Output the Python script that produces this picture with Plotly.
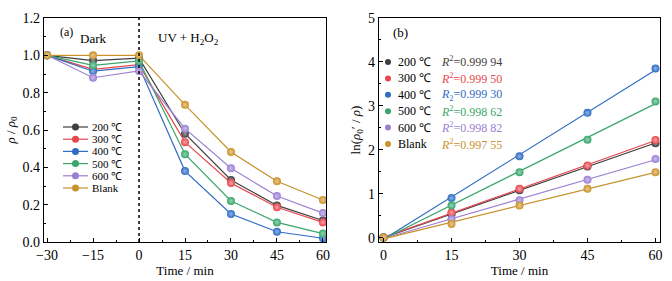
import numpy as np
import plotly.graph_objects as go

# ---------------- data ----------------
series_names = ["200 ℃", "300 ℃", "400 ℃", "500 ℃", "600 ℃", "Blank"]
colors = ["#3f3f3f", "#e8474d", "#2f6cc3", "#3aa66b", "#9b80d2", "#c8922c"]
light = ["#9a9a9a", "#f6a3a6", "#8fb3e6", "#94d4b0", "#cdbdec", "#e8c98e"]

time_a = [-30, -15, 0, 15, 30, 45, 60]
ratio_200 = [1.0, 0.972, 0.985, 0.580, 0.332, 0.196, 0.115]
ratio_300 = [1.0, 0.925, 0.950, 0.535, 0.316, 0.186, 0.105]
ratio_400 = [1.0, 0.915, 0.940, 0.380, 0.150, 0.055, 0.020]
ratio_500 = [1.0, 0.946, 0.970, 0.470, 0.220, 0.105, 0.045]
ratio_600 = [1.0, 0.880, 0.916, 0.607, 0.395, 0.246, 0.155]
ratio_blank = [1.0, 1.0, 1.0, 0.735, 0.482, 0.325, 0.225]
ratios = [ratio_200, ratio_300, ratio_400, ratio_500, ratio_600, ratio_blank]

time_b = [0, 15, 30, 45, 60]
ln_200 = [0.0, 0.53, 1.08, 1.62, 2.15]
ln_300 = [0.0, 0.57, 1.11, 1.64, 2.22]
ln_400 = [0.0, 0.90, 1.85, 2.84, 3.85]
ln_500 = [0.0, 0.73, 1.49, 2.23, 3.10]
ln_600 = [0.0, 0.42, 0.85, 1.32, 1.79]
ln_blank = [0.0, 0.31, 0.73, 1.11, 1.49]
lns = [ln_200, ln_300, ln_400, ln_500, ln_600, ln_blank]

r2_labels = ["<i>R</i><sup>2</sup>=0.999 94", "<i>R</i><sup>2</sup>=0.999 50",
             "<i>R</i><sub>2</sub>=0.999 30", "<i>R</i><sup>2</sup>=0.998 62",
             "<i>R</i><sup>2</sup>=0.998 82", "<i>R</i><sup>2</sup>=0.997 55"]

xticks_a = [-30, -15, 0, 15, 30, 45, 60]
yticks_a = [0.0, 0.2, 0.4, 0.6, 0.8, 1.0, 1.2]
xticks_b = [0, 15, 30, 45, 60]
yticks_b = [0, 1, 2, 3, 4, 5]

# ---------------- layout helpers ----------------
W, H = 672, 281
ML, MR, MT, MB = 44, 12, 18, 39
PW, PH = W - ML - MR, H - MT - MB


def px(x):
    return (x - ML) / PW


def py(y):
    return (H - MB - y) / PH


FONT = "Liberation Serif, Times New Roman, serif"

fig = go.Figure()

# panel (a)
for name, c, lc, vals in zip(series_names, colors, light, ratios):
    fig.add_trace(go.Scatter(
        x=time_a, y=vals, mode="lines+markers", name=name,
        line=dict(color=c, width=1.2),
        marker=dict(size=8, color=c, gradient=dict(type="radial", color=lc),
                    line=dict(width=0)),
        xaxis="x", yaxis="y", showlegend=False))

# panel (b): fit lines then points
tb = np.array(time_b, dtype=float)
for name, c, lc, vals in zip(series_names, colors, light, lns):
    k, b = np.polyfit(tb, np.array(vals), 1)
    fig.add_trace(go.Scatter(
        x=[tb[0], tb[-1]], y=[k * tb[0] + b, k * tb[-1] + b], mode="lines",
        line=dict(color=c, width=1.2), xaxis="x2", yaxis="y2",
        showlegend=False, hoverinfo="skip"))
for name, c, lc, vals in zip(series_names, colors, light, lns):
    fig.add_trace(go.Scatter(
        x=time_b, y=vals, mode="markers", name=name,
        marker=dict(size=8, color=c, gradient=dict(type="radial", color=lc),
                    line=dict(width=0)),
        xaxis="x2", yaxis="y2", showlegend=False))

axis_common = dict(
    showline=True, linecolor="black", linewidth=1.2, mirror=True,
    ticks="inside", ticklen=4, tickwidth=1, tickcolor="black",
    showgrid=False, zeroline=False, automargin=False,
    tickfont=dict(family=FONT, size=14, color="black"),
)

fig.update_layout(
    width=W, height=H,
    margin=dict(l=ML, r=MR, t=MT, b=MB, autoexpand=False),
    paper_bgcolor="white", plot_bgcolor="white",
    font=dict(family=FONT, color="black"),
    xaxis=dict(domain=[0, px(326)], range=[-31, 61], tickvals=xticks_a,
               ticktext=[str(v).replace("-", "−") for v in xticks_a],
               minor=dict(ticks="inside", ticklen=2, dtick=7.5, tick0=0, tickcolor="black"),
               title=dict(text="Time / min", font=dict(family=FONT, size=13), standoff=2),
               anchor="y", **axis_common),
    yaxis=dict(domain=[0, 1], range=[0, 1.2], tickvals=yticks_a,
               ticktext=[f"{v:.1f}" for v in yticks_a],
               minor=dict(ticks="inside", ticklen=2, dtick=0.1, tick0=0, tickcolor="black"),
               title=dict(text="<i>ρ</i> / <i>ρ</i><sub>0</sub>", font=dict(family=FONT, size=13), standoff=4),
               anchor="x", **axis_common),
    xaxis2=dict(domain=[px(379), 1], range=[-1, 61], tickvals=xticks_b,
                minor=dict(ticks="inside", ticklen=2, dtick=7.5, tick0=0, tickcolor="black"),
                title=dict(text="Time / min", font=dict(family=FONT, size=13), standoff=2),
                anchor="y2", **axis_common),
    yaxis2=dict(domain=[0, 1], range=[-0.1, 5], tickvals=yticks_b,
                minor=dict(ticks="inside", ticklen=2, dtick=0.5, tick0=0, tickcolor="black"),
                title=dict(text="ln(<i>ρ</i><sub>0</sub>′ / <i>ρ</i>)", font=dict(family=FONT, size=13), standoff=4),
                anchor="x2", **axis_common),
)

shapes = []
annotations = []


def label(text, x, y, size, color="black", xanchor="center"):
    return dict(text=text, x=px(x), y=py(y), xref="paper", yref="paper",
                xanchor=xanchor, yanchor="middle", showarrow=False,
                font=dict(family=FONT, size=size, color=color))


# dotted divider at t=0 in panel (a)
shapes.append(dict(type="line", xref="x", yref="y domain", x0=0, x1=0, y0=0, y1=1,
                   line=dict(color="black", width=1.5, dash="dot")))

# panel labels / text
annotations += [
    label("(a)", 66, 32, 12),
    label("Dark", 93, 38, 13),
    label("UV + H<sub>2</sub>O<sub>2</sub>", 188, 38, 13),
    label("(b)", 400, 32, 13),
]

# legend for panel (a)
for i, (name, c) in enumerate(zip(series_names, colors)):
    yy = 127 + 12.2 * i
    shapes.append(dict(type="line", xref="paper", yref="paper", x0=px(63), x1=px(88),
                       y0=py(yy), y1=py(yy), line=dict(color=c, width=1.2)))
    shapes.append(dict(type="circle", xref="paper", yref="paper", xsizemode="pixel",
                       ysizemode="pixel", xanchor=px(75.5), yanchor=py(yy),
                       x0=-3.5, x1=3.5, y0=-3.5, y1=3.5, fillcolor=c,
                       line=dict(width=0)))
    annotations.append(label(name, 90, yy, 11, xanchor="left"))

# legend for panel (b)
for i, (name, c, r2) in enumerate(zip(series_names, colors, r2_labels)):
    yy = 62 + 16.4 * i
    shapes.append(dict(type="circle", xref="paper", yref="paper", xsizemode="pixel",
                       ysizemode="pixel", xanchor=px(388), yanchor=py(yy),
                       x0=-3, x1=3, y0=-3, y1=3, fillcolor=c, line=dict(width=0)))
    annotations.append(label(name, 396, yy, 12, xanchor="left"))
    annotations.append(label(r2, 439, yy, 12, color=c, xanchor="left"))

fig.update_layout(shapes=shapes, annotations=annotations)

fig.write_html("out.html",
               config={"displayModeBar": False},
               post_script="document.body.style.margin='0';document.body.style.padding='0';")
